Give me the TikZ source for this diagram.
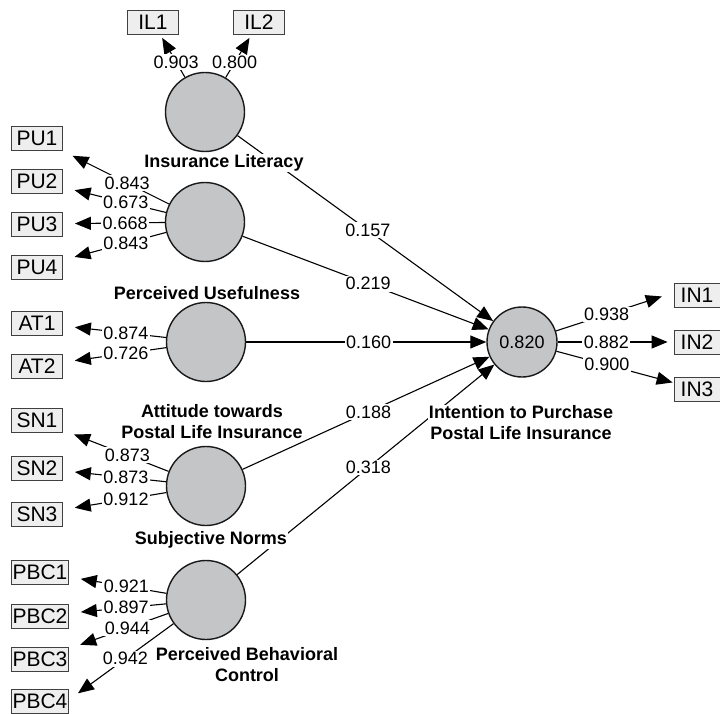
\documentclass[tikz,border=0pt]{standalone}
\usepackage{fontspec}
\setmainfont{Liberation Sans}
\usetikzlibrary{arrows.meta}
\definecolor{lvgray}{RGB}{196,197,199}
\definecolor{mvgray}{RGB}{238,238,238}
\tikzset{
  lv/.style={circle, draw=black!90, line width=1.4pt, fill=lvgray, minimum size=79pt, inner sep=0pt},
  mv/.style={rectangle, draw=black!75, line width=0.8pt, fill=mvgray, minimum width=51pt, minimum height=24pt,
    inner sep=1pt, font=\fontsize{21}{24}\selectfont},
  lvname/.style={font=\fontsize{18}{21}\selectfont\bfseries, align=center, fill=white, inner sep=1pt},
  val/.style={fill=white, inner sep=1.5pt},
  load/.style={line width=1.1pt, -{Triangle[length=16pt,width=13pt]}, shorten >=12pt},
  beta/.style={line width=1.1pt, -{Triangle[length=16pt,width=13pt]}},
}
\begin{document}
\begin{tikzpicture}[x=1pt, y=-1pt, font=\fontsize{18}{21}\selectfont]
\useasboundingbox (0,0) rectangle (720,714);
% latent variables
\node[lv] (IL) at (205,112) {};
\node[lv] (PU) at (205,222) {};
\node[lv] (AT) at (206,342) {};
\node[lv] (SN) at (206,486) {};
\node[lv] (PBC) at (206,600) {};
\node[lv, minimum size=70pt] (IN) at (522,342) {0.820};
% indicators
\node[mv] (IL1) at (153,22) {IL1};
\node[mv] (IL2) at (259,22) {IL2};
\foreach \i/\y in {1/138, 2/181, 3/224, 4/267} \node[mv] (PU\i) at (37,\y) {PU\i};
\foreach \i/\y in {1/323, 2/366} \node[mv] (AT\i) at (37,\y) {AT\i};
\foreach \i/\y in {1/420, 2/468, 3/514} \node[mv] (SN\i) at (37,\y) {SN\i};
\foreach \i/\y in {1/572, 2/616, 3/659, 4/701} \node[mv, minimum width=57pt] (PBC\i) at (40,\y) {PBC\i};
\foreach \i/\y in {1/295, 2/342, 3/389} \node[mv, minimum width=46pt] (IN\i) at (697,\y) {IN\i};
% outer loadings
\foreach \i/\v in {1/0.903, 2/0.800} \draw[load, shorten >=4pt] (IL) -- node[val, pos=0.35] {\v} (IL\i);
\foreach \i/\v in {1/0.843, 2/0.673, 3/0.668, 4/0.843} \draw[load] (PU) -- node[val, pos=0.39] {\v} (PU\i);
\foreach \i/\v in {1/0.874, 2/0.726} \draw[load] (AT) -- node[val, pos=0.39] {\v} (AT\i);
\foreach \i/\v in {1/0.873, 2/0.873, 3/0.912} \draw[load] (SN) -- node[val, pos=0.39] {\v} (SN\i);
\foreach \i/\v in {1/0.921, 2/0.897, 3/0.944} \draw[load] (PBC) -- node[val, pos=0.41] {\v} (PBC\i);
\draw[load, shorten >=47pt] (PBC) -- node[val, pos=0.36] {0.942} ([yshift=-20pt]PBC4.center);
\draw[load, shorten >=37pt] (IN) -- node[val, pos=0.36] {0.938} ([yshift=10pt]IN1.center);
\draw[load, shorten >=6pt] (IN) -- node[val, pos=0.42] {0.882} (IN2);
\draw[load, shorten >=1pt] (IN) -- node[val, pos=0.43] {0.900} (IN3);
% path coefficients
\foreach \s/\v in {IL/0.157, PU/0.219, AT/0.160, SN/0.188, PBC/0.318}
  \draw[beta] (\s) -- node[val, pos=0.51] {\v} (IN);
% construct names
\node[lvname] (ILt) at (224,163) {Insurance Literacy};
\node[lvname] (PUt) at (207,293) {Perceived Usefulness};
\node[lvname] (ATt) at (212,422) {Attitude towards\\Postal Life Insurance};
\node[lvname] (SNt) at (211,540) {Subjective Norms};
\node[lvname] (PBCt) at (247,665) {Perceived Behavioral\\Control};
\node[lvname] (INt) at (521,423) {Intention to Purchase\\Postal Life Insurance};
\end{tikzpicture}
\end{document}
